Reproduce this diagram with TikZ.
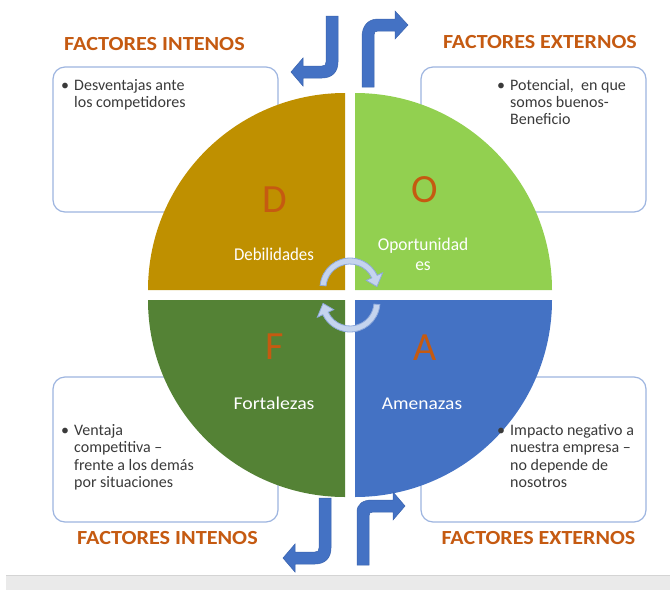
\documentclass[tikz,border=0pt]{standalone}
\usepackage{fontspec}
\usepackage{graphicx}
\setmainfont{Carlito}
\usetikzlibrary{calc}
\definecolor{orangeT}{HTML}{C55A11}
\definecolor{qD}{HTML}{BF9000}
\definecolor{qO}{HTML}{92D050}
\definecolor{qF}{HTML}{548235}
\definecolor{qA}{HTML}{4472C4}
\definecolor{boxline}{HTML}{9DB5E0}
\definecolor{txtgray}{HTML}{3A3A3A}
\definecolor{cfill}{HTML}{C5D4EE}
\definecolor{cline}{HTML}{8FAADC}
\definecolor{barrow}{HTML}{4472C4}
\definecolor{barrowline}{HTML}{3A63AE}
\definecolor{bandgray}{HTML}{EAEAEA}
\definecolor{bandline}{HTML}{D4D4D4}
\tikzset{
  title/.style={font=\fontsize{20}{24}\selectfont\bfseries, text=orangeT, inner sep=0pt, anchor=base},
  letter/.style={font=\fontsize{40}{48}\selectfont, text=orangeT, inner sep=0pt},
  qlabel/.style={font=\fontsize{18}{21}\selectfont, text=white, inner sep=0pt, anchor=base},
  btext/.style={font=\fontsize{16}{18}\selectfont, text=txtgray, inner sep=0pt, anchor=base west},
  box/.style={draw=boxline, line width=1.2pt, fill=white, rounded corners=12pt, minimum width=225pt, minimum height=145pt, inner sep=0pt},
  bentarrow/.style={fill=barrow, draw=barrowline, line width=0.5pt},
  circarrow/.style={fill=cfill, draw=cline, line width=0.8pt}
}
\begin{document}
\begin{tikzpicture}[x=1pt,y=-1pt]
\useasboundingbox (0,0) rectangle (670,590);
\fill[white] (0,0) rectangle (670,590);
% bottom gray band
\fill[bandgray] (6,575) rectangle (670,590);
\draw[bandline, line width=0.8pt] (6,575) -- (670,575);

% boxes
\node[box] (boxTL) at (165.5,139.5) {};
\node[box] (boxTR) at (533.5,139.5) {};
\node[box] (boxBL) at (165.5,449.5) {};
\node[box] (boxBR) at (533.5,449.5) {};

% quadrants
\fill[qD] (345,290) -- (148,290) arc[start angle=180, end angle=270, radius=197] -- cycle;
\fill[qO] (355,290) -- (355,93) arc[start angle=270, end angle=360, radius=197] -- cycle;
\fill[qF] (345,300) -- (345,497) arc[start angle=90, end angle=180, radius=197] -- cycle;
\fill[qA] (355,300) -- (552,300) arc[start angle=0, end angle=90, radius=197] -- cycle;

% circular arrows
\coordinate (ct) at (350,288);
\coordinate (cb) at (350,302);
\filldraw[circarrow] ($(ct)+(185:30)$) arc[start angle=185, end angle=335, radius=30]
  -- ($(ct)+(335:36)$) -- ($(ct)+(357:27)$) -- ($(ct)+(335:18)$) -- ($(ct)+(335:24)$)
  arc[start angle=335, end angle=185, radius=24] -- cycle;
\filldraw[circarrow] ($(cb)+(5:30)$) arc[start angle=5, end angle=155, radius=30]
  -- ($(cb)+(155:36)$) -- ($(cb)+(177:27)$) -- ($(cb)+(155:18)$) -- ($(cb)+(155:24)$)
  arc[start angle=155, end angle=5, radius=24] -- cycle;

% bent arrows
\filldraw[bentarrow] (326,16) -- (338,16) -- (338,62) .. controls (338,72) and (332,78) .. (322,78)
  -- (303,78) -- (303,86) -- (291,72) -- (303,58) -- (303,66) -- (322,66)
  .. controls (325,66) and (326,65) .. (326,62) -- cycle;
\filldraw[bentarrow] (362,87) -- (362,37) .. controls (362,26) and (368,19) .. (378,19)
  -- (395,19) -- (395,11) -- (408,25) -- (395,39) -- (395,31) -- (378,31)
  .. controls (375,31) and (374,32) .. (374,35) -- (374,87) -- cycle;
\filldraw[bentarrow] (319,498) -- (331,498) -- (331,548) .. controls (331,558) and (325,564) .. (315,564)
  -- (295,564) -- (295,572) -- (283,558) -- (295,544) -- (295,552) -- (315,552)
  .. controls (318,552) and (319,551) .. (319,548) -- cycle;
\filldraw[bentarrow] (357,565) -- (357,512) .. controls (357,504) and (363,500) .. (372,500)
  -- (393,500) -- (393,492) -- (405,506) -- (393,520) -- (393,512) -- (373,512)
  .. controls (370,512) and (369,513) .. (369,516) -- (369,565) -- cycle;

% titles
\node[title] (tTL) at (154.5,50) {\scalebox{1.11}[1]{FACTORES INTENOS}};
\node[title] (tTR) at (540,48) {\scalebox{1.10}[1]{FACTORES EXTERNOS}};
\node[title] (tBL) at (167.5,544) {\scalebox{1.11}[1]{FACTORES INTENOS}};
\node[title] (tBR) at (538.5,544) {\scalebox{1.10}[1]{FACTORES EXTERNOS}};

% letters
\node[letter] (lD) at (275,200) {D};
\node[letter] (lO) at (425,190) {O};
\node[letter] (lF) at (275,347) {F};
\node[letter] (lA) at (425,348) {A};

% quadrant labels
\node[qlabel] (qlD) at (274,260) {\scalebox{0.935}[1]{Debilidades}};
\node[qlabel] (qlO1) at (423,250) {\scalebox{0.965}[1]{Oportunidad}};
\node[qlabel] (qlO2) at (423,270) {\scalebox{0.965}[1]{es}};
\node[qlabel] (qlF) at (274,409) {\scalebox{1.10}[1]{Fortalezas}};
\node[qlabel] (qlA) at (422,409) {\scalebox{1.08}[1]{Amenazas}};

% box texts
\node[btext] (bTL0) at (61,90) {•};
\node[btext] (bTL1) at (74,90) {Desventajas ante};
\node[btext] (bTL2) at (74,107) {los competidores};

\node[btext] (bTR0) at (497,90) {•};
\node[btext] (bTR1) at (510,90) {Potencial,\ \ en que};
\node[btext] (bTR2) at (510,107) {somos buenos-};
\node[btext] (bTR3) at (510,124) {Beneficio};

\node[btext] (bBL0) at (61,435) {•};
\node[btext] (bBL1) at (74,435) {Ventaja};
\node[btext] (bBL2) at (74,452.5) {competitiva –};
\node[btext] (bBL3) at (74,470) {frente a los demás};
\node[btext] (bBL4) at (74,487.5) {por situaciones};

\node[btext] (bBR0) at (497,435) {•};
\node[btext] (bBR1) at (510,435) {Impacto negativo a};
\node[btext] (bBR2) at (510,452.5) {nuestra empresa –};
\node[btext] (bBR3) at (510,470) {no depende de};
\node[btext] (bBR4) at (510,487.5) {nosotros};
\end{tikzpicture}
\end{document}
